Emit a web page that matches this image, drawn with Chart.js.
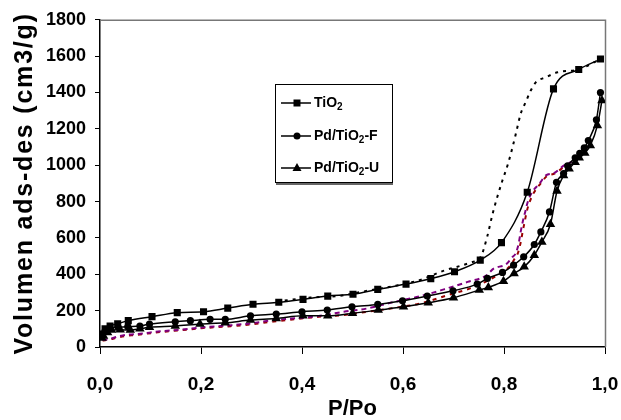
<!DOCTYPE html>
<html>
<head>
<meta charset="utf-8">
<script src="https://cdn.jsdelivr.net/npm/chart.js@4.4.1/dist/chart.umd.min.js"></script>
<style>
  html, body { margin: 0; padding: 0; background: #ffffff; }
  #wrap { width: 621px; height: 420px; position: relative; }
</style>
</head>
<body>
<div id="wrap"><canvas id="c" width="621" height="420"></canvas></div>
<script>
// ---- Data (P/Po, volume cm3/g) ----
const xTickLabels = ['0,0', '0,2', '0,4', '0,6', '0,8', '1,0'];
const yTickLabels = ['0', '200', '400', '600', '800', '1000', '1200', '1400', '1600', '1800'];
const legendNames = ['TiO', 'Pd/TiO', 'Pd/TiO'];
const legendSuffix = ['', '-F', '-U'];

const tio2AdsP = [0.004, 0.010, 0.020, 0.035, 0.056, 0.103, 0.153, 0.205, 0.253, 0.303, 0.354, 0.402, 0.451, 0.501, 0.550, 0.606, 0.655, 0.702, 0.753, 0.795, 0.846, 0.898, 0.948, 0.991];
const tio2AdsV = [72, 100, 116, 128, 145, 167, 189, 194, 214, 235, 246, 262, 280, 290, 317, 346, 376, 414, 478, 574, 851, 1420, 1527, 1584];

const tio2DesP = [0.350, 0.417, 0.476, 0.523, 0.579, 0.632, 0.681, 0.734, 0.754, 0.767, 0.777, 0.787, 0.797, 0.808, 0.817, 0.825, 0.833, 0.843, 0.853, 0.863, 0.883, 0.906, 0.948, 0.991];
const tio2DesV = [250, 272, 282, 306, 334, 367, 420, 465, 497, 610, 728, 828, 917, 1008, 1100, 1191, 1283, 1347, 1411, 1456, 1484, 1511, 1527, 1584];

const pdfAdsP = [0.004, 0.010, 0.020, 0.036, 0.055, 0.079, 0.098, 0.149, 0.179, 0.218, 0.248, 0.298, 0.349, 0.400, 0.450, 0.499, 0.550, 0.599, 0.648, 0.699, 0.747, 0.767, 0.797, 0.819, 0.839, 0.860, 0.873, 0.890, 0.904, 0.918, 0.926, 0.941, 0.950, 0.959, 0.967, 0.983, 0.991];
const pdfAdsV = [70, 88, 103, 108, 112, 115, 126, 139, 145, 152, 152, 172, 181, 194, 203, 221, 234, 254, 280, 309, 346, 377, 410, 450, 496, 564, 633, 743, 906, 954, 997, 1041, 1065, 1095, 1136, 1250, 1400];

const pduAdsP = [0.004, 0.007, 0.015, 0.023, 0.040, 0.060, 0.079, 0.098, 0.149, 0.198, 0.248, 0.298, 0.349, 0.402, 0.451, 0.500, 0.551, 0.601, 0.650, 0.700, 0.751, 0.769, 0.799, 0.820, 0.840, 0.860, 0.875, 0.892, 0.905, 0.918, 0.929, 0.941, 0.949, 0.960, 0.971, 0.985, 0.994];
const pduAdsV = [50, 60, 80, 93, 95, 93, 100, 108, 115, 126, 133, 148, 157, 172, 172, 185, 203, 221, 243, 271, 313, 328, 362, 405, 441, 505, 578, 675, 858, 944, 981, 1017, 1041, 1067, 1109, 1219, 1356];

const pdfDesP = [0.005, 0.020, 0.034, 0.053, 0.069, 0.119, 0.159, 0.205, 0.251, 0.298, 0.344, 0.420, 0.483, 0.529, 0.575, 0.635, 0.681, 0.728, 0.764, 0.780, 0.804, 0.817, 0.823, 0.829, 0.833, 0.837, 0.842, 0.847, 0.856, 0.870, 0.883, 0.899, 0.919, 0.935];
const pdfDesV = [38, 45, 57, 68, 70, 86, 95, 108, 118, 130, 148, 166, 194, 212, 243, 280, 317, 358, 392, 432, 455, 496, 514, 569, 633, 688, 743, 798, 853, 898, 944, 957, 999, 1020];

const pduDesP = [0.005, 0.020, 0.034, 0.053, 0.069, 0.119, 0.159, 0.205, 0.251, 0.298, 0.344, 0.433, 0.483, 0.529, 0.575, 0.635, 0.688, 0.741, 0.787, 0.810, 0.822, 0.828, 0.833, 0.837, 0.841, 0.845, 0.851, 0.860, 0.872, 0.885, 0.901, 0.921, 0.937];
const pduDesV = [35, 42, 52, 62, 66, 82, 92, 104, 113, 124, 140, 166, 176, 194, 212, 240, 285, 331, 395, 440, 490, 520, 575, 635, 690, 745, 800, 853, 898, 940, 955, 995, 1015];

function pts(px, vy) { return px.map((p, i) => ({ x: p, y: vy[i] })); }

const FONT = "'Liberation Sans', Arial, Helvetica, sans-serif";

// Title letter spacing (y axis) + plot frame + legend
const framePlugin = {
  id: 'frame',
  beforeDraw(chart) {
    const s = chart.scales.y;
    if (s && !s._lsWrapped) {
      const orig = s.drawTitle.bind(s);
      s.drawTitle = function () {
        const c = this.ctx;
        const prev = c.letterSpacing;
        c.letterSpacing = '1.8px';
        orig();
        c.letterSpacing = prev || '0px';
      };
      s._lsWrapped = true;
    }
  },
  beforeDatasetsDraw(chart) {
    const { ctx, chartArea: a } = chart;
    ctx.save();
    ctx.strokeStyle = '#777777';
    ctx.lineWidth = 1.5;
    ctx.beginPath();
    ctx.moveTo(a.left, a.top + 0.5);
    ctx.lineTo(a.right + 0.5, a.top + 0.5);
    ctx.lineTo(a.right + 0.5, a.bottom);
    ctx.stroke();
    ctx.restore();
  },
  afterDraw(chart) {
    const ctx = chart.ctx;
    const bx = 275, by = 84, bw = 117, bh = 98;
    ctx.save();
    ctx.fillStyle = '#ffffff';
    ctx.fillRect(bx, by, bw, bh);
    ctx.strokeStyle = '#000000';
    ctx.lineWidth = 1;
    ctx.strokeRect(bx + 0.5, by + 0.5, bw, bh);
    ctx.strokeStyle = '#666666';
    ctx.lineWidth = 2;
    ctx.beginPath();
    ctx.moveTo(bx + 1, by + bh + 2);
    ctx.lineTo(bx + bw + 1, by + bh + 2);
    ctx.stroke();
    const rows = [103, 136, 168];
    const styles = ['rect', 'circle', 'triangle'];
    rows.forEach((ry, i) => {
      ctx.strokeStyle = '#000';
      ctx.lineWidth = 1.5;
      ctx.beginPath();
      ctx.moveTo(281, ry);
      ctx.lineTo(311, ry);
      ctx.stroke();
      ctx.fillStyle = '#000';
      ctx.beginPath();
      if (styles[i] === 'rect') {
        ctx.rect(293.5, ry - 3.5, 7, 7);
      } else if (styles[i] === 'circle') {
        ctx.arc(297, ry, 3.5, 0, Math.PI * 2);
      } else {
        ctx.moveTo(297, ry - 5);
        ctx.lineTo(301.5, ry + 3);
        ctx.lineTo(292.5, ry + 3);
        ctx.closePath();
      }
      ctx.fill();
      ctx.fillStyle = '#000';
      ctx.textBaseline = 'middle';
      ctx.textAlign = 'left';
      ctx.font = 'bold 14px ' + FONT;
      let tx = 314;
      ctx.fillText(legendNames[i], tx, ry);
      tx += ctx.measureText(legendNames[i]).width;
      ctx.font = 'bold 10px ' + FONT;
      ctx.fillText('2', tx, ry + 4);
      tx += ctx.measureText('2').width;
      if (legendSuffix[i]) {
        ctx.font = 'bold 14px ' + FONT;
        ctx.fillText(legendSuffix[i], tx, ry);
      }
    });
    ctx.restore();
  }
};

const common = { showLine: true, cubicInterpolationMode: 'monotone', fill: false };

new Chart(document.getElementById('c'), {
  type: 'scatter',
  data: {
    datasets: [
      Object.assign({}, common, { label: 'TiO2', data: pts(tio2AdsP, tio2AdsV), borderColor: '#000', backgroundColor: '#000', borderWidth: 1.5, pointStyle: 'rect', pointRadius: 5, pointBorderWidth: 0, order: 1 }),
      Object.assign({}, common, { label: 'Pd/TiO2-F', data: pts(pdfAdsP, pdfAdsV), borderColor: '#000', backgroundColor: '#000', borderWidth: 1.5, pointStyle: 'circle', pointRadius: 3.6, pointBorderWidth: 0, order: 2 }),
      Object.assign({}, common, { label: 'Pd/TiO2-U', data: pts(pduAdsP, pduAdsV), borderColor: '#000', backgroundColor: '#000', borderWidth: 1.5, pointStyle: 'triangle', pointRadius: 5.5, pointBorderWidth: 0, order: 3 }),
      Object.assign({}, common, { label: 'TiO2 des', data: pts(tio2DesP, tio2DesV), borderColor: '#000', borderWidth: 2, borderDash: [3, 5], pointRadius: 0, order: 4 }),
      Object.assign({}, common, { label: 'Pd/TiO2-F des', data: pts(pdfDesP, pdfDesV), borderColor: '#800080', borderWidth: 2, borderDash: [5, 4], pointRadius: 0, order: 5 }),
      Object.assign({}, common, { label: 'Pd/TiO2-U des', data: pts(pduDesP, pduDesV), borderColor: '#990000', borderWidth: 2, borderDash: [4, 5], pointRadius: 0, order: 6 })
    ]
  },
  options: {
    responsive: false,
    animation: false,
    events: [],
    layout: { padding: { top: 19, right: 1, left: 0, bottom: 0 } },
    plugins: { legend: { display: false }, tooltip: { enabled: false } },
    scales: {
      x: {
        type: 'linear', min: 0, max: 1,
        afterFit(s) { s.height = 73; s.paddingRight = 16; },
        border: { display: true, color: '#000', width: 1.5 },
        grid: { drawOnChartArea: false, drawTicks: true, tickLength: 7, color: '#000', tickColor: '#000' },
        ticks: {
          stepSize: 0.2, padding: 19, color: '#000', maxRotation: 0, autoSkip: false,
          font: { family: FONT, size: 19, weight: 'bold' },
          callback: (v) => { const i = Math.round(v / 0.2); return (Math.abs(v - i * 0.2) < 1e-6) ? xTickLabels[i] : ''; }
        },
        title: { display: true, text: 'P/Po', color: '#000', padding: { top: 0, bottom: 0 }, font: { family: FONT, size: 22, weight: 'bold', lineHeight: 1 } }
      },
      y: {
        type: 'linear', min: 0, max: 1800,
        afterFit(s) { s.width = 100; },
        border: { display: true, color: '#000', width: 1.5 },
        grid: { drawOnChartArea: false, drawTicks: true, tickLength: 5, color: '#000', tickColor: '#000' },
        ticks: {
          stepSize: 200, padding: 9, color: '#000', autoSkip: false,
          font: { family: FONT, size: 18, weight: 'bold' },
          callback: (v) => yTickLabels[Math.round(v / 200)]
        },
        title: { display: true, text: 'Volumen ads-des (cm3/g)', color: '#000', padding: { top: 13, bottom: 0 }, font: { family: FONT, size: 25, weight: 'bold', lineHeight: 1 } }
      }
    }
  },
  plugins: [framePlugin]
});
</script>
</body>
</html>
